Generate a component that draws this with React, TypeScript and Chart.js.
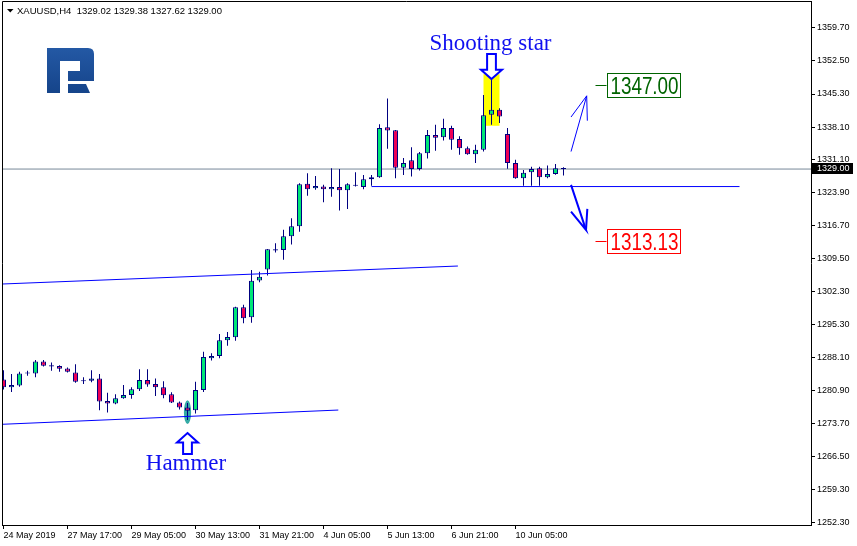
import { useEffect, useRef } from 'react';
import { Chart, registerables } from 'chart.js';

Chart.register(...registerables);

// ---------------- data (XAUUSD, H4) ----------------
const opens = [
  1283.3, 1281.6, 1282.0, 1284.6, 1284.6, 1287.2, 1286.4, 1286.2, 1285.7, 1284.8,
  1283.1, 1283.0, 1283.5, 1278.6, 1278.1, 1279.2, 1279.9, 1281.2, 1283.2, 1282.3,
  1281.6, 1280.1, 1278.3, 1277.2, 1276.6, 1281.0, 1287.9, 1288.4, 1291.8, 1292.45,
  1299.0, 1296.8, 1304.8, 1307.2, 1311.3, 1311.4, 1314.4, 1316.6, 1325.8, 1324.85,
  1325.2, 1324.6, 1325.1, 1324.4, 1325.4, 1325.1, 1326.8, 1327.2, 1338.1, 1337.45,
  1329.3, 1330.9, 1329.0, 1332.45, 1336.4, 1335.9, 1337.9, 1335.5, 1333.5, 1332.2,
  1333.2, 1340.8, 1341.9, 1336.6, 1330.3, 1327.0, 1328.3, 1329.2, 1327.2, 1327.9,
  1329.02,
];
const highs = [
  1285.3, 1284.5, 1285.0, 1285.2, 1287.5, 1287.5, 1287.0, 1286.4, 1285.9, 1286.6,
  1283.8, 1285.3, 1284.5, 1280.4, 1280.1, 1282.1, 1281.6, 1285.5, 1285.5, 1283.5,
  1282.9, 1280.5, 1278.5, 1278.2, 1282.8, 1289.3, 1289.0, 1293.2, 1293.6, 1299.1,
  1299.5, 1307.1, 1306.7, 1311.65, 1312.9, 1315.8, 1318.3, 1325.9, 1328.1, 1327.5,
  1325.6, 1329.2, 1329.0, 1325.9, 1328.3, 1327.7, 1327.7, 1338.75, 1344.3, 1337.5,
  1331.4, 1333.75, 1332.7, 1337.5, 1338.6, 1339.9, 1338.4, 1336.1, 1333.9, 1334.3,
  1345.1, 1348.75, 1342.2, 1337.9, 1331.0, 1328.8, 1329.5, 1329.5, 1329.75, 1330.1,
  1329.38,
];
const lows = [
  1281.1, 1280.6, 1281.7, 1284.1, 1283.8, 1286.1, 1285.2, 1285.0, 1284.8, 1282.6,
  1282.3, 1282.7, 1276.6, 1276.1, 1277.9, 1279.1, 1279.1, 1280.8, 1281.7, 1279.7,
  1279.2, 1278.2, 1276.8, 1274.5, 1275.9, 1280.6, 1287.4, 1287.9, 1290.6, 1291.7,
  1295.5, 1295.6, 1304.4, 1305.9, 1310.85, 1309.3, 1312.6, 1315.4, 1323.2, 1324.5,
  1321.8, 1323.0, 1320.0, 1320.35, 1325.2, 1324.6, 1325.4, 1327.1, 1333.4, 1327.0,
  1327.7, 1327.4, 1328.7, 1331.3, 1333.0, 1335.2, 1333.2, 1332.1, 1332.1, 1330.3,
  1332.8, 1338.6, 1339.0, 1329.05, 1326.9, 1325.4, 1325.4, 1325.4, 1327.0, 1327.75,
  1327.62,
];
const closes = [
  1281.6, 1282.1, 1284.6, 1284.6, 1287.2, 1286.3, 1286.1, 1285.6, 1285.0, 1282.8,
  1282.9, 1283.5, 1278.5, 1278.1, 1279.2, 1279.9, 1281.2, 1283.2, 1282.2, 1281.6,
  1279.85, 1278.3, 1277.2, 1276.5, 1281.0, 1288.2, 1288.4, 1291.8, 1292.5, 1299.0,
  1296.6, 1304.75, 1305.6, 1311.6, 1311.6, 1314.4, 1316.6, 1325.7, 1324.6, 1325.3,
  1324.6, 1325.1, 1324.4, 1325.7, 1325.5, 1326.8, 1327.2, 1337.9, 1337.4, 1329.3,
  1330.3, 1329.0, 1332.45, 1336.4, 1335.8, 1337.9, 1335.35, 1333.5, 1332.2, 1333.2,
  1340.7, 1341.9, 1340.4, 1330.3, 1327.0, 1328.2, 1329.0, 1327.2, 1327.9, 1329.2,
  1329.0,
];

const timeTickBars = [0, 8, 16, 24, 32, 40, 48, 56, 64];
const timeTickLabels = [
  '24 May 2019', '27 May 17:00', '29 May 05:00', '30 May 13:00', '31 May 21:00',
  '4 Jun 05:00', '5 Jun 13:00', '6 Jun 21:00', '10 Jun 05:00',
];
const priceTicks = [
  1359.7, 1352.5, 1345.3, 1338.1, 1331.1, 1323.9, 1316.7, 1309.5,
  1302.3, 1295.3, 1288.1, 1280.9, 1273.7, 1266.5, 1259.3, 1252.3,
];

const symbolName = 'XAUUSD,H4';
const bidPrice = 1329.0;

// trend / channel lines (bar index, price)
const lowerChannelBars = [-0.19, 41.85];
const lowerChannelPrices = [1273.56, 1276.66];
const upperChannelBars = [-0.19, 56.8];
const upperChannelPrices = [1304.03, 1307.94];
const supportBars = [46, 92];
const supportPrices = [1325.2, 1325.2];

// forecast arrows
const bullArrowBars = [70.94, 72.9, 70.94];
const bullArrowPrices = [1332.8, 1344.9, 1340.3];
const bullBarbBars = [72.9, 72.98];
const bullBarbPrices = [1344.9, 1339.5];
const bearArrowBars = [70.94, 72.81, 70.94];
const bearArrowPrices = [1325.56, 1315.78, 1319.76];
const bearBarbBars = [72.81, 72.98];
const bearBarbPrices = [1315.78, 1320.34];

// targets
const targetPrices = [1347.0, 1313.13];
const targetColors = ['#006400', '#FF0000'];
const targetBar = 74;

// candle patterns
const patternNames = ['Shooting star', 'Hammer'];
const patternBars = [61, 23];
const yellowBars = [60, 62];
const yellowPrices = [1338.4, 1349.6];
const tealBar = 23;
const tealPrices = [1273.6, 1278.8];

// axis range
const X_MIN = -0.1875;
const X_MAX = 100.9375;
const Y_MIN = 1251.69;
const Y_MAX = 1365.5;

const NAVY = '#000080';
const UP = '#00E676';
const DOWN = '#EE0055';
const LINE_BLUE = '#0000FF';

Chart.defaults.font.family = '"Liberation Sans", Arial, sans-serif';

let narrowOk: boolean | null = null;
function hasNarrow(ctx: any) {
  if (narrowOk !== null) return narrowOk;
  ctx.save();
  ctx.font = '30px "Liberation Sans Narrow", serif';
  const a = ctx.measureText('1347.00 Hamburgefons').width;
  ctx.font = '30px serif';
  const b = ctx.measureText('1347.00 Hamburgefons').width;
  ctx.restore();
  narrowOk = Math.abs(a - b) > 0.5;
  return narrowOk;
}

function drawNarrowText(ctx: any, text: string, cx: number, baseline: number, size: number, color: string) {
  ctx.save();
  ctx.fillStyle = color;
  ctx.textAlign = 'center';
  ctx.textBaseline = 'alphabetic';
  if (hasNarrow(ctx)) {
    ctx.font = `${size}px "Liberation Sans Narrow"`;
    ctx.fillText(text, cx, baseline);
  } else {
    ctx.font = `${size}px "Liberation Sans"`;
    ctx.translate(cx, baseline);
    ctx.scale(0.82, 1);
    ctx.fillText(text, 0, 0);
  }
  ctx.restore();
}

function drawLogo(ctx: any) {
  ctx.save();
  const g = ctx.createLinearGradient(0, 47, 0, 93);
  g.addColorStop(0, '#2459A5');
  g.addColorStop(1, '#15448A');
  ctx.fillStyle = g;
  ctx.beginPath();
  ctx.moveTo(47, 48);
  ctx.lineTo(88, 48);
  ctx.quadraticCurveTo(94, 48, 94, 54);
  ctx.lineTo(94, 81);
  ctx.lineTo(68, 81);
  ctx.lineTo(68, 71);
  ctx.lineTo(80, 71);
  ctx.lineTo(80, 61);
  ctx.lineTo(60, 61);
  ctx.lineTo(60, 93);
  ctx.lineTo(47, 93);
  ctx.closePath();
  ctx.fill();
  ctx.beginPath();
  ctx.moveTo(68, 84);
  ctx.lineTo(86, 84);
  ctx.lineTo(90, 93);
  ctx.lineTo(68, 93);
  ctx.closePath();
  ctx.fill();
  ctx.restore();
}

function outlineArrow(ctx: any, tx: number, ty: number, dir: number, len: number) {
  // dir = 1 : pointing down (tip at bottom); dir = -1 : pointing up
  const hb = 9.3, hw = 10.5, sw = 4.4;
  ctx.save();
  ctx.beginPath();
  ctx.moveTo(tx, ty);
  ctx.lineTo(tx + hw, ty - dir * hb);
  ctx.lineTo(tx + sw, ty - dir * hb);
  ctx.lineTo(tx + sw, ty - dir * len);
  ctx.lineTo(tx - sw, ty - dir * len);
  ctx.lineTo(tx - sw, ty - dir * hb);
  ctx.lineTo(tx - hw, ty - dir * hb);
  ctx.closePath();
  ctx.fillStyle = '#FFFFFF';
  ctx.fill();
  ctx.lineWidth = 2;
  ctx.strokeStyle = LINE_BLUE;
  ctx.lineJoin = 'miter';
  ctx.stroke();
  ctx.restore();
}

const overlayPlugin = {
  id: 'mt4Overlay',
  beforeDatasetsDraw(chart: any) {
    const { ctx, chartArea: a, scales } = chart;
    const x = scales.x, y = scales.y;
    ctx.save();
    ctx.beginPath();
    ctx.rect(a.left, a.top, a.right - a.left, a.bottom - a.top);
    ctx.clip();
    // yellow rectangle (shooting star zone)
    const x0 = x.getPixelForValue(yellowBars[0]);
    const x1 = x.getPixelForValue(yellowBars[1]);
    const y0 = y.getPixelForValue(yellowPrices[1]);
    const y1 = y.getPixelForValue(yellowPrices[0]);
    ctx.fillStyle = '#FFFF00';
    ctx.fillRect(x0, y0, x1 - x0, y1 - y0);
    // teal ellipse (hammer)
    const tx = x.getPixelForValue(tealBar);
    const ty0 = y.getPixelForValue(tealPrices[1]);
    const ty1 = y.getPixelForValue(tealPrices[0]);
    ctx.fillStyle = 'rgb(52,170,165)';
    ctx.beginPath();
    ctx.ellipse(tx, (ty0 + ty1) / 2, 3.6, (ty1 - ty0) / 2, 0, 0, Math.PI * 2);
    ctx.fill();
    ctx.restore();
  },
  afterDatasetsDraw(chart: any) {
    const { ctx, chartArea: a, scales } = chart;
    const x = scales.x, y = scales.y;
    ctx.save();
    // frame top + left
    ctx.strokeStyle = '#000';
    ctx.lineWidth = 1;
    ctx.beginPath();
    ctx.moveTo(a.left + 0.5, a.bottom);
    ctx.lineTo(a.left + 0.5, a.top + 0.5);
    ctx.lineTo(a.right, a.top + 0.5);
    ctx.stroke();

    // header
    ctx.fillStyle = '#000';
    ctx.beginPath();
    ctx.moveTo(7, 9);
    ctx.lineTo(13.5, 9);
    ctx.lineTo(10.25, 12.5);
    ctx.closePath();
    ctx.fill();
    const last = opens.length - 1;
    const quote = [opens[last], highs[last], lows[last], closes[last]].map((v) => v.toFixed(2)).join(' ');
    ctx.font = '9.5px "Liberation Sans"';
    ctx.textAlign = 'left';
    ctx.textBaseline = 'alphabetic';
    ctx.fillText(`${symbolName}  ${quote}`, 17, 14);

    drawLogo(ctx);

    // clip for in-chart annotations
    ctx.save();
    ctx.beginPath();
    ctx.rect(a.left, a.top, a.right - a.left, a.bottom - a.top);
    ctx.clip();

    // pattern labels
    const ssx = x.getPixelForValue(patternBars[0]);
    const ssTip = y.getPixelForValue(highs[patternBars[0]]) + 1;
    outlineArrow(ctx, ssx, ssTip, 1, 25);
    ctx.font = '23px "Liberation Serif", serif';
    ctx.fillStyle = '#1010F0';
    ctx.textAlign = 'center';
    ctx.textBaseline = 'alphabetic';
    ctx.fillText(patternNames[0], ssx - 1, ssTip - 29.5);

    const hx = x.getPixelForValue(patternBars[1]);
    const hTip = y.getPixelForValue(tealPrices[0]) + 9;
    outlineArrow(ctx, hx, hTip, -1, 21);
    ctx.fillStyle = '#1010F0';
    ctx.fillText(patternNames[1], hx - 1.5, hTip + 36.8);

    // target labels
    const lx = x.getPixelForValue(targetBar);
    targetPrices.forEach((p, i) => {
      const py = Math.round(y.getPixelForValue(p)) - 0.5;
      const col = targetColors[i];
      ctx.strokeStyle = col;
      ctx.lineWidth = 1;
      ctx.beginPath();
      ctx.moveTo(lx, py);
      ctx.lineTo(lx + 11, py);
      ctx.stroke();
      const bx = Math.round(lx + 11) + 0.5;
      const bw = 73;
      const bh = 24;
      ctx.strokeRect(bx, py - 12, bw, bh);
      drawNarrowText(ctx, p.toFixed(2), bx + bw / 2 + 0.5, py + 8.5, 23, col);
    });
    ctx.restore();

    // bid price box on the axis
    const bp = Math.round(y.getPixelForValue(bidPrice));
    ctx.fillStyle = '#000';
    ctx.fillRect(a.right + 1, bp - 6, 41, 11);
    ctx.fillStyle = '#fff';
    ctx.font = '9px "Liberation Sans"';
    ctx.textAlign = 'left';
    ctx.textBaseline = 'middle';
    ctx.fillText(bidPrice.toFixed(2), a.right + 6, bp - 0.5);
    ctx.restore();
  },
};

export default function App() {
  const ref = useRef<HTMLCanvasElement>(null);

  useEffect(() => {
    const canvas = ref.current;
    if (!canvas) return;
    const idx = opens.map((_, i) => i);
    const bodies = idx.map((i) => ({ x: i, y: [opens[i], closes[i]] }));
    const wicks = idx.map((i) => ({ x: i, y: [lows[i], highs[i]] }));
    const bodyColors = idx.map((i) => (closes[i] >= opens[i] ? UP : DOWN));
    const pts = (xs: number[], ys: number[]) => xs.map((v, i) => ({ x: v, y: ys[i] }));
    const line = (label: string, data: any[], color: string, width: number, order: number) => ({
      type: 'line' as const,
      label,
      data,
      borderColor: color,
      backgroundColor: color,
      borderWidth: width,
      pointRadius: 0,
      fill: false,
      tension: 0,
      order,
    });

    const chart = new Chart(canvas, {
      type: 'bar',
      data: {
        datasets: [
          {
            type: 'bar',
            label: 'body',
            data: bodies as any,
            backgroundColor: bodyColors,
            borderColor: NAVY,
            borderWidth: 1,
            borderSkipped: false,
            barThickness: 5,
            grouped: false,
            minBarLength: 1,
            inflateAmount: 0,
            order: 2,
          } as any,
          {
            type: 'bar',
            label: 'wick',
            data: wicks as any,
            backgroundColor: NAVY,
            borderWidth: 0,
            barThickness: 1,
            grouped: false,
            minBarLength: 1,
            inflateAmount: 0,
            order: 3,
          } as any,
          line('bid', pts([X_MIN, X_MAX], [bidPrice, bidPrice]), '#778899', 1, 4),
          line('lower channel', pts(lowerChannelBars, lowerChannelPrices), LINE_BLUE, 1, 0),
          line('upper channel', pts(upperChannelBars, upperChannelPrices), LINE_BLUE, 1, 0),
          line('support', pts(supportBars, supportPrices), LINE_BLUE, 1, 0),
          line('bull arrow', pts(bullArrowBars, bullArrowPrices), LINE_BLUE, 1, 0),
          line('bull barb', pts(bullBarbBars, bullBarbPrices), LINE_BLUE, 1, 0),
          line('bear arrow', pts(bearArrowBars, bearArrowPrices), LINE_BLUE, 2, 0),
          line('bear barb', pts(bearBarbBars, bearBarbPrices), LINE_BLUE, 2, 0),
        ] as any,
      },
      options: {
        responsive: false,
        animation: false,
        events: [],
        layout: { padding: { left: 2, top: 1, right: 0, bottom: 0 } },
        plugins: { legend: { display: false }, tooltip: { enabled: false } },
        scales: {
          x: {
            type: 'linear',
            min: X_MIN,
            max: X_MAX,
            offset: false,
            position: 'bottom',
            grid: { display: true, drawOnChartArea: false, drawTicks: true, tickLength: 4, color: '#000', offset: false },
            border: { display: true, color: '#000', width: 1 },
            ticks: {
              autoSkip: false,
              maxRotation: 0,
              minRotation: 0,
              align: 'start',
              padding: 1,
              color: '#000',
              font: { size: 9 },
              callback: (v: any) => {
                const k = timeTickBars.indexOf(Number(v));
                return k >= 0 ? timeTickLabels[k] : '';
              },
            },
            afterBuildTicks: (s: any) => {
              s.ticks = timeTickBars.map((v) => ({ value: v }));
            },
            afterFit: (s: any) => {
              s.height = 21;
              s.paddingLeft = 0;
              s.paddingRight = 0;
              s.paddingTop = 0;
              s.paddingBottom = 0;
            },
          },
          y: {
            type: 'linear',
            position: 'right',
            min: Y_MIN,
            max: Y_MAX,
            beginAtZero: false,
            grid: { display: true, drawOnChartArea: false, drawTicks: true, tickLength: 4, color: '#000' },
            border: { display: true, color: '#000', width: 1 },
            ticks: {
              autoSkip: false,
              padding: 2,
              color: '#000',
              font: { size: 9 },
              callback: (v: any) => Number(v).toFixed(2),
            },
            afterBuildTicks: (s: any) => {
              s.ticks = priceTicks.map((v) => ({ value: v }));
            },
            afterFit: (s: any) => {
              s.width = 46;
              s.paddingLeft = 0;
              s.paddingRight = 0;
              s.paddingTop = 0;
              s.paddingBottom = 0;
            },
          },
        } as any,
      },
      plugins: [overlayPlugin],
    });
    return () => chart.destroy();
  }, []);

  return (
    <div style={{ position: 'fixed', left: 0, top: 0, width: 857, height: 546, background: '#ffffff' }}>
      <canvas ref={ref} width={857} height={546} style={{ display: 'block', width: 857, height: 546 }} />
    </div>
  );
}
